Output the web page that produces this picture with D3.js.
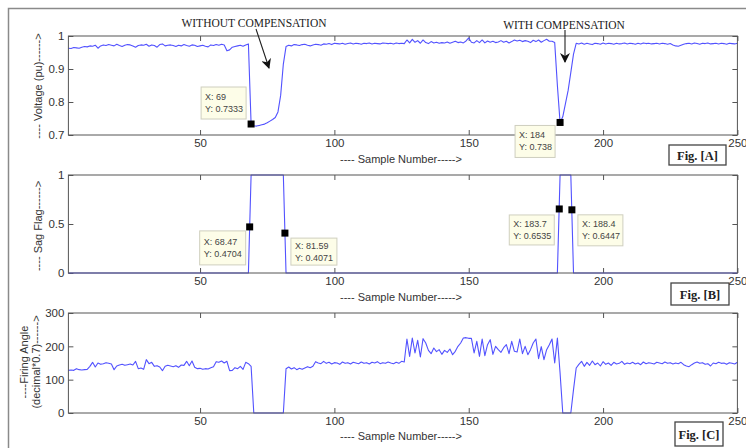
<!DOCTYPE html>
<html><head><meta charset="utf-8">
<script src="https://cdn.jsdelivr.net/npm/d3@7"></script>
<style>
html,body{margin:0;padding:0;background:#fff;}
svg{display:block;font-family:"Liberation Sans",Arial,sans-serif;}
</style></head>
<body><svg id="c" width="746" height="448"></svg>
<script>
// ---------- DATA ----------
const sampleStart = 1, sampleEnd = 250;
const xTicks = [50, 100, 150, 200, 250];

const voltage = [
0.963,0.962,0.965,0.964,0.963,0.966,0.968,0.967,0.970,0.969,
0.972,0.963,0.970,0.973,0.971,0.974,0.972,0.970,0.975,0.971,
0.968,0.972,0.974,0.973,0.970,0.966,0.971,0.973,0.972,0.975,
0.969,0.973,0.971,0.966,0.974,0.976,0.970,0.972,0.973,0.971,
0.968,0.972,0.970,0.974,0.971,0.969,0.973,0.972,0.968,0.970,
0.972,0.969,0.967,0.973,0.971,0.974,0.972,0.975,0.973,0.955,
0.958,0.966,0.968,0.970,0.972,0.969,0.973,0.976,0.7333,0.728,
0.727,0.729,0.731,0.733,0.737,0.742,0.747,0.753,0.770,0.820,
0.915,0.968,0.972,0.970,0.974,0.973,0.971,0.974,0.975,0.972,
0.970,0.973,0.975,0.974,0.972,0.976,0.975,0.977,0.974,0.978,
0.977,0.976,0.978,0.975,0.977,0.979,0.976,0.978,0.977,0.975,
0.978,0.977,0.979,0.976,0.978,0.977,0.976,0.979,0.978,0.977,
0.978,0.976,0.979,0.977,0.978,0.977,0.988,0.979,0.990,0.981,
0.986,0.978,0.988,0.980,0.977,0.983,0.979,0.981,0.978,0.980,
0.979,0.982,0.978,0.981,0.984,0.980,0.982,0.979,0.985,0.994,
0.981,0.979,0.986,0.980,0.988,0.979,0.985,0.981,0.984,0.980,
0.982,0.986,0.981,0.984,0.979,0.983,0.988,0.985,0.987,0.983,
0.986,0.984,0.980,0.987,0.983,0.988,0.981,0.986,0.990,0.984,
0.984,0.980,0.850,0.738,0.755,0.795,0.835,0.890,0.945,0.978,
0.976,0.979,0.975,0.978,0.976,0.974,0.978,0.977,0.975,0.979,
0.976,0.978,0.977,0.975,0.978,0.976,0.977,0.979,0.976,0.978,
0.977,0.975,0.978,0.976,0.979,0.977,0.978,0.976,0.977,0.978,
0.976,0.978,0.977,0.975,0.977,0.973,0.970,0.969,0.972,0.975,
0.977,0.978,0.976,0.979,0.977,0.975,0.978,0.977,0.979,0.976,
0.977,0.978,0.976,0.978,0.977,0.975,0.978,0.977,0.976,0.978
];

const sagX = [1, 68, 69, 81, 82, 183, 184, 188, 189, 250];
const sagY = [0, 0, 1, 1, 0, 0, 1, 1, 0, 0];

const firing = [
128,129,128,133,130,129,130,131,140,152,
138,150,146,148,151,149,147,130,141,144,
146,143,145,147,144,155,133,135,131,160,
148,152,140,142,138,127,140,143,141,139,
142,137,144,143,155,142,156,137,133,134,
131,133,132,136,139,154,152,156,150,155,
127,128,136,133,140,131,152,148,140,0,
0,0,0,0,0,0,0,0,0,0,
0,133,138,132,136,130,134,131,135,139,
136,140,154,150,148,155,149,152,147,151,
150,146,153,149,151,147,152,150,148,153,
149,151,147,152,150,154,148,151,149,153,
150,148,152,149,155,153,222,170,225,180,
218,168,223,210,188,178,195,184,190,176,
188,182,192,175,185,200,210,225,226,224,
224,180,215,170,222,172,205,220,176,200,
190,182,196,205,178,215,185,183,222,178,
200,175,190,210,222,163,199,160,190,205,
222,150,225,120,0,0,0,0,70,135,
146,155,140,152,143,156,145,150,141,154,
146,150,143,152,147,149,155,146,150,148,
152,147,150,145,153,148,151,149,147,152,
150,148,153,149,151,147,150,148,152,145,
141,139,145,150,153,149,151,146,148,141,
150,148,152,149,150,146,151,149,147,152
];

const voltTicks = [0.7, 0.8, 0.9, 1];
const sagTicks = [0, 0.5, 1];
const fireTicks = [0, 100, 200, 300];

const tipsA = [{x:69, y:0.7333, lx:"X: 69", ly:"Y: 0.7333"},
               {x:184, y:0.738, lx:"X: 184", ly:"Y: 0.738"}];
const tipsB = [{x:68.47, y:0.4704, lx:"X: 68.47", ly:"Y: 0.4704"},
               {x:81.59, y:0.4071, lx:"X: 81.59", ly:"Y: 0.4071"},
               {x:183.7, y:0.6535, lx:"X: 183.7", ly:"Y: 0.6535"},
               {x:188.4, y:0.6447, lx:"X: 188.4", ly:"Y: 0.6447"}];

// ---------- LAYOUT (data-tip box offsets from marker) ----------
const tipBoxA = [{dx:-50, dy:-37, w:45, h:32}, {dx:-45, dy:3, w:40, h:32}];
const tipBoxB = [{dx:-50, dy:4, w:46, h:34}, {dx:6, dy:5, w:46, h:27},
                 {dx:-50, dy:6, w:45, h:30}, {dx:6, dy:5, w:45, h:31}];

// ---------- DRAW ----------
const svg = d3.select("#c");
const lineColor = "#5252ff";
const axisColor = "#555";
const left = 68.4, right = 737.4;

svg.append("rect").attr("x", 8.5).attr("y", 8.5).attr("width", 760).attr("height", 460)
  .attr("fill", "none").attr("stroke", "#8a8a8a").attr("stroke-width", 1.5);

const x = d3.scaleLinear().domain([sampleStart, sampleEnd]).range([left, right]);

function panel(top, bottom, yDomain, yTicks, fmt) {
  const y = d3.scaleLinear().domain(yDomain).range([bottom, top]);
  const g = svg.append("g");
  const tl = 5;
  const mk = (axis, tr) => {
    const a = g.append("g").attr("transform", tr).call(axis);
    a.select(".domain").remove();
    a.selectAll("line").attr("stroke", axisColor);
    a.selectAll("text").attr("fill", "#333").style("font-size", "11.5px");
    return a;
  };
  mk(d3.axisBottom(x).tickValues(xTicks).tickSize(-tl).tickPadding(4).tickFormat(d3.format("d")), `translate(0,${bottom})`);
  mk(d3.axisTop(x).tickValues(xTicks).tickSize(-tl).tickFormat(""), `translate(0,${top})`);
  mk(d3.axisLeft(y).tickValues(yTicks).tickSize(-tl).tickPadding(4).tickFormat(fmt), `translate(${left},0)`);
  mk(d3.axisRight(y).tickValues(yTicks).tickSize(-tl).tickFormat(""), `translate(${right},0)`);
  return {g, y, top, bottom};
}

function frame(p) {
  p.g.append("rect").attr("x", left).attr("y", p.top).attr("width", right-left).attr("height", p.bottom-p.top)
    .attr("fill", "none").attr("stroke", axisColor).attr("stroke-width", 1);
}

function drawLine(p, xs, ys) {
  const line = d3.line().x(d => x(d[0])).y(d => p.y(d[1]));
  p.g.append("path").datum(xs.map((v, i) => [v, ys[i]]))
    .attr("d", line).attr("fill", "none").attr("stroke", lineColor).attr("stroke-width", 1.1)
    .attr("stroke-linejoin", "round");
}

function tips(p, list, boxes) {
  list.forEach((t, i) => {
    const mx = x(t.x), my = p.y(t.y);
    const b = boxes[i];
    const bx = mx + b.dx, by = my + b.dy;
    p.g.append("rect").attr("x", bx).attr("y", by).attr("width", b.w).attr("height", b.h)
      .attr("fill", "#fdfde8").attr("stroke", "#cfcfbf").attr("stroke-width", 1);
    p.g.append("text").attr("x", bx + 4).attr("y", by + b.h/2 - 3).text(t.lx)
      .attr("fill", "#444").style("font-size", "9px");
    p.g.append("text").attr("x", bx + 4).attr("y", by + b.h/2 + 9).text(t.ly)
      .attr("fill", "#444").style("font-size", "9px");
    p.g.append("rect").attr("x", mx - 3.5).attr("y", my - 3.5).attr("width", 7).attr("height", 7)
      .attr("fill", "#000");
  });
}

function xLabel(yPos) {
  svg.append("text").attr("x", 401).attr("y", yPos).attr("text-anchor", "middle")
    .attr("fill", "#333").style("font-size", "11px").text("---- Sample Number----->");
}

function figBox(x0, y0, w, h, label) {
  svg.append("rect").attr("x", x0).attr("y", y0).attr("width", w).attr("height", h)
    .attr("fill", "#fff").attr("stroke", "#444").attr("stroke-width", 1.3);
  svg.append("text").attr("x", x0 + w/2).attr("y", y0 + h/2 + 4.5).attr("text-anchor", "middle")
    .style("font-family", "'Liberation Serif','Times New Roman',serif").style("font-weight", "bold")
    .style("font-size", "12.5px").attr("fill", "#222").text(label);
}

function yLabel(cx, cy, lines) {
  const t = svg.append("text").attr("transform", `translate(${cx},${cy}) rotate(-90)`)
    .attr("text-anchor", "middle").attr("fill", "#333").style("font-size", "11px");
  lines.forEach((l, i) => t.append("tspan").attr("x", 0).attr("dy", i === 0 ? 0 : 12).text(l));
}

// Panel A
const sampleIdx = voltage.map((_, i) => sampleStart + i);
const pA = panel(36, 135, [0.7, 1], voltTicks, d => d === 1 ? "1" : d3.format(".1f")(d));
drawLine(pA, sampleIdx, voltage);
frame(pA);
tips(pA, tipsA, tipBoxA);
xLabel(163);
yLabel(42, 86, ["---- Voltage (pu)------>"]);
figBox(669, 145, 57, 20, "Fig. [A]");

// Panel B
const pB = panel(175, 273, [0, 1], sagTicks, d => d === 0.5 ? "0.5" : d3.format("d")(d));
drawLine(pB, sagX, sagY);
frame(pB);
tips(pB, tipsB, tipBoxB);
xLabel(301);
yLabel(42, 226, ["---- Sag Flag------>"]);
figBox(671, 283, 58, 22, "Fig. [B]");

// Panel C
const fireIdx = firing.map((_, i) => sampleStart + i);
const pC = panel(313, 413, [0, 300], fireTicks, d3.format("d"));
drawLine(pC, fireIdx, firing);
frame(pC);
xLabel(440);
yLabel(28, 362, ["----Firing Angle", "(decimal*0.7)------>"]);
figBox(675, 422, 48, 24, "Fig. [C]");

// Annotations
const defs = svg.append("defs");
defs.append("marker").attr("id", "ah").attr("viewBox", "0 0 10 10").attr("refX", 9).attr("refY", 5)
  .attr("markerWidth", 10).attr("markerHeight", 10).attr("markerUnits", "userSpaceOnUse").attr("orient", "auto")
  .append("path").attr("d", "M0,0 L10,5 L0,10 L3,5 Z").attr("fill", "#111");
const serif = "'Liberation Serif','Times New Roman',serif";
svg.append("text").attr("x", 254).attr("y", 27).attr("text-anchor", "middle")
  .style("font-family", serif).style("font-size", "11.5px").attr("fill", "#222").text("WITHOUT COMPENSATION");
svg.append("line").attr("x1", 256).attr("y1", 29).attr("x2", 269).attr("y2", 68)
  .attr("stroke", "#222").attr("stroke-width", 1.1).attr("marker-end", "url(#ah)");
svg.append("text").attr("x", 564).attr("y", 29).attr("text-anchor", "middle")
  .style("font-family", serif).style("font-size", "11.5px").attr("fill", "#222").text("WITH COMPENSATION");
svg.append("line").attr("x1", 565).attr("y1", 30).attr("x2", 565).attr("y2", 62)
  .attr("stroke", "#222").attr("stroke-width", 1.1).attr("marker-end", "url(#ah)");
</script></body></html>
